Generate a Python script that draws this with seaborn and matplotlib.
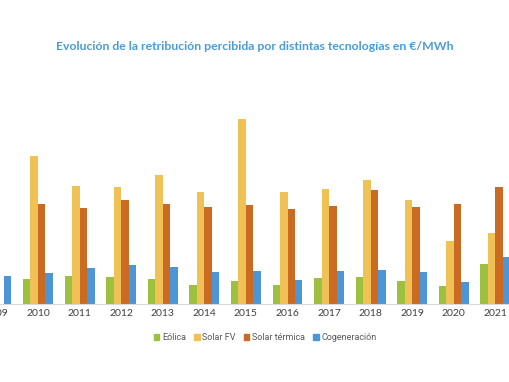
import pandas as pd
import seaborn as sns
import numpy as np
import matplotlib.pyplot as plt

# data (€/MWh, estimated)
years = ['2009', '2010', '2011', '2012', '2013', '2014', '2015',
         '2016', '2017', '2018', '2019', '2020', '2021']
eolica = [np.nan, 81, 92, 88, 81, 61, 74, 61, 85, 88, 74, 58, 130]
solar_fv = [np.nan, 487, 387, 383, 424, 369, 609, 369, 377, 408, 342, 205, 233]
solar_termica = [np.nan, 328, 315, 343, 328, 318, 325, 312, 322, 374, 318, 328, 383]
cogeneracion = [92, 100, 116, 127, 120, 103, 106, 78, 106, 110, 103, 71, 153]

series = ['Eólica', 'Solar FV', 'Solar térmica', 'Cogeneración']
colors = ['#9DC03E', '#F0C255', '#CB6A22', '#4C96D7']

df = pd.DataFrame({'year': years, 'Eólica': eolica, 'Solar FV': solar_fv,
                   'Solar térmica': solar_termica, 'Cogeneración': cogeneracion})
df = df.melt(id_vars='year', var_name='tech', value_name='value')

sns.set_style('white')
plt.rcParams['font.family'] = ['Lato', 'DejaVu Sans']

fig = plt.figure(figsize=(5.1, 3.82), dpi=100)
ax = fig.add_axes([0, 1 - 303.5 / 382, 1, 223.5 / 382])

sns.barplot(data=df, x='year', y='value', hue='tech', hue_order=series,
            palette=colors, width=0.72, saturation=1, linewidth=0,
            ax=ax, legend=False)

# the reference is a crop: 2009 is cut on the left, 2021 on the right
ax.set_xlim(0.087, 12.35)
ax.set_ylim(0, 223.5 * 3.3)
ax.set_xlabel('')
ax.set_ylabel('')
ax.set_yticks([])
for s in ['top', 'left', 'right']:
    ax.spines[s].set_visible(False)
ax.spines['bottom'].set_color('#D9D9D9')
ax.spines['bottom'].set_linewidth(0.8)
ax.tick_params(axis='x', length=0, pad=4, labelsize=7.5, labelcolor='#404040')

# first year label sits outside the view limits, so it is drawn by hand
ax.annotate(years[0], xy=(0, 0), xycoords=('data', 'axes fraction'),
            xytext=(0, -4), textcoords='offset points', ha='center', va='top',
            fontsize=7.5, color='#404040', annotation_clip=False)

fig.text(0.5, 1 - 47 / 382, 'Evolución de la retribución percibida por distintas tecnologías en €/MWh',
         ha='center', va='center', fontsize=8.8, fontweight='bold', color='#4A9BD8')

# legend
handles = [plt.Rectangle((0, 0), 1, 1, color=c) for c in colors]
fig.legend(handles, series, loc='center', bbox_to_anchor=(0.52, 1 - 338 / 382),
           ncol=4, frameon=False, handlelength=0.6, handleheight=0.6,
           handletextpad=0.3, columnspacing=0.9, labelcolor='#595959',
           prop={'family': 'Roboto', 'size': 6.5})

fig.savefig('out.png', dpi=100)
